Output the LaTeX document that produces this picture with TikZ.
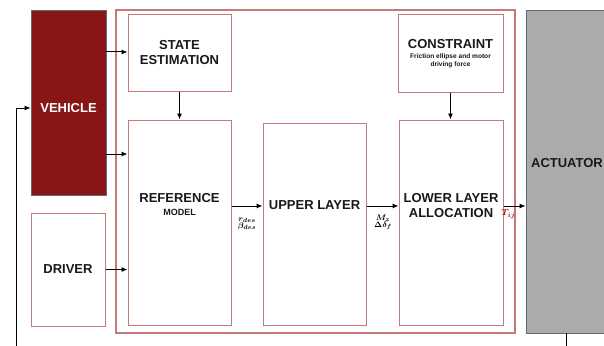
\documentclass[tikz,border=0pt]{standalone}
\usepackage{fontspec}
\setmainfont{Liberation Sans}
\usepackage{amsmath,bm}
\usetikzlibrary{arrows.meta}
\definecolor{vehred}{RGB}{137,22,22}
\definecolor{boxred}{RGB}{196,120,120}
\definecolor{edgegray}{RGB}{95,108,120}
\definecolor{actgray}{RGB}{171,171,171}
\definecolor{labred}{RGB}{165,25,25}
\definecolor{inkdark}{RGB}{25,25,25}
\tikzset{
  blk/.style={draw=boxred, line width=1pt, fill=white, minimum width=#1, inner sep=0pt},
  ttl/.style={font=\bfseries\fontsize{13}{15}\selectfont, text=inkdark, align=center, inner sep=0pt},
  flow/.style={-{Latex[length=6pt,width=5pt]}, line width=1pt, black},
  sig/.style={font=\fontsize{8.5}{9}\selectfont, align=center, inner sep=0pt},
}
\begin{document}
\begin{tikzpicture}[x=1pt,y=-1pt]
\useasboundingbox (0,0) rectangle (604,345);
\clip (0,0) rectangle (604,345);
% outer controller frame
\node[draw=boxred, line width=1.2pt, minimum width=399pt, minimum height=323pt, inner sep=0pt] (frame) at (315.5,171.5) {};
% vehicle and actuator
\node[draw=edgegray, fill=vehred, line width=0.8pt, minimum width=75pt, minimum height=185pt, inner sep=0pt] (veh) at (68.5,102.5) {};
\node[ttl, text=white] (vehtxt) at (68.5,108) {VEHICLE};
\node[draw=edgegray, fill=actgray, line width=0.9pt, minimum width=84pt, minimum height=323pt, inner sep=0pt] (act) at (568,171.5) {};
\node[ttl] (acttxt) at (567,163) {ACTUATOR};
% driver
\node[blk=74pt, minimum height=113pt] (drv) at (68,269.5) {};
\node[ttl] (drvtxt) at (68,269.5) {DRIVER};
% controller blocks
\node[blk=103pt, minimum height=76pt] (est) at (179.5,53) {};
\node[ttl] (esttxt) at (179.5,52.5) {STATE\\ESTIMATION};
\node[blk=103pt, minimum height=205pt] (ref) at (179.5,222.5) {};
\node[ttl] (reftxt) at (179.5,205) {REFERENCE\\[-2pt]{\fontsize{9}{10}\selectfont MODEL}};
\node[blk=103pt, minimum height=202pt] (up) at (314.5,224) {};
\node[ttl] (uptxt) at (314.5,205) {UPPER LAYER};
\node[blk=105pt, minimum height=77pt] (con) at (450.5,53.5) {};
\node[ttl] (contxt) at (450.5,44) {CONSTRAINT};
\node[font=\bfseries\fontsize{6.6}{7.5}\selectfont, text=inkdark, align=center, inner sep=0pt] (consub) at (450.5,61) {Friction ellipse and motor\\driving force};
\node[blk=104pt, minimum height=205pt] (low) at (451,222.5) {};
\node[ttl] (lowtxt) at (451,205.5) {LOWER LAYER\\ALLOCATION};
% connectors
\draw[flow] (veh.east |- 0,52) -- (est.west |- 0,52);
\draw[flow] (veh.east |- 0,154) -- (ref.west |- 0,154);
\draw[flow] (est.south) -- (ref.north);
\draw[flow] (drv.east) -- (ref.west |- drv.east);
\draw[flow] (ref.east |- 0,206) -- (up.west |- 0,206);
\draw[flow] (up.east |- 0,206) -- (low.west |- 0,206);
\draw[flow] (low.east |- 0,206) -- (act.west |- 0,206);
\draw[flow] (con.south) -- (low.north -| con.south);
% feedback loop from actuator back to vehicle
\coordinate (fbout) at (566,360);
\coordinate (fbin) at (16,360);
\draw[line width=1pt] (act.south -| fbout) -- (fbout);
\draw[flow] (fbin) -- (16,108) -- (veh.west |- 0,108);
% signal labels
\node[sig] (rlab) at (247,223.5) {$\bm{r_{des}}$\\[-2pt]$\bm{\beta_{des}}$};
\node[sig] (mlab) at (383,222.5) {$\bm{M_{z}}$\\[-2pt]$\bm{\Delta\delta_{f}}$};
\node[sig, text=labred, font=\fontsize{9.5}{10}\selectfont] (tlab) at (508.5,214) {$\bm{T_{ij}}$};
\end{tikzpicture}
\end{document}
